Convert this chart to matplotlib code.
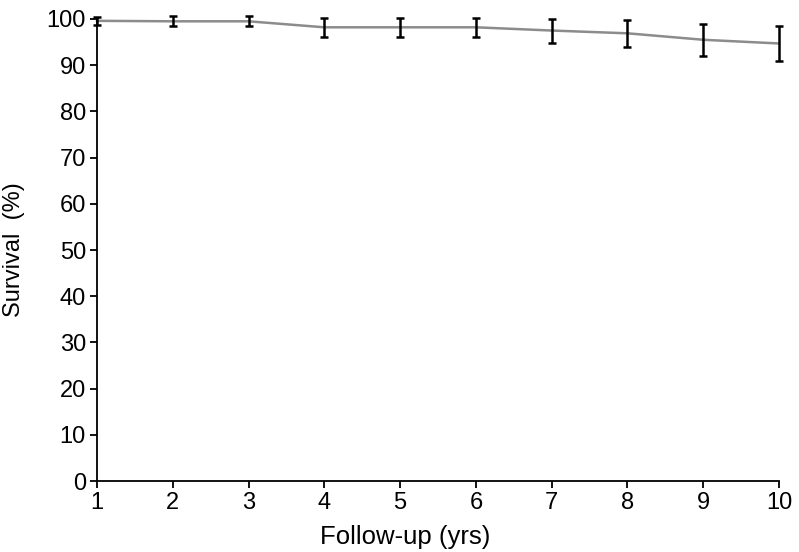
import matplotlib
matplotlib.use("Agg")
import matplotlib.pyplot as plt

# Supervivencia por año de seguimiento, con su barra de error
anios = [1, 2, 3, 4, 5, 6, 7, 8, 9, 10]
supervivencia = [99.6, 99.5, 99.5, 98.2, 98.2, 98.2, 97.5, 96.9, 95.5, 94.7]
error = [0.8, 1.1, 1.1, 2.1, 2.1, 2.1, 2.6, 2.9, 3.5, 3.8]
yticks = [0, 10, 20, 30, 40, 50, 60, 70, 80, 90, 100]

plt.rcParams["font.family"] = ["Liberation Sans", "DejaVu Sans"]

fig = plt.figure(figsize=(7.99, 5.52), dpi=100)
ax = fig.add_axes([0.1214, 0.1286, 0.8536, 0.8370])

ax.plot(anios, supervivencia, color="#8c8c8c", lw=1.8, zorder=2, clip_on=False)
eb = ax.errorbar(anios, supervivencia, yerr=error, fmt="none", ecolor="black",
                 elinewidth=1.8, capsize=3.2, capthick=1.8, zorder=3)
for parte in eb.lines[1] + eb.lines[2]:
    parte.set_clip_on(False)

ax.set_xlim(1, 10)
ax.set_ylim(0, 100)
ax.set_xticks(anios)
ax.set_yticks(yticks)
ax.tick_params(labelsize=17, width=1.3, length=5, direction="out", pad=3)
for lado in ["top", "right"]:
    ax.spines[lado].set_visible(False)
for lado in ["left", "bottom"]:
    ax.spines[lado].set_linewidth(1.3)

ax.set_xlabel("Follow-up (yrs)", fontsize=18.5)
ax.xaxis.set_label_coords(0.452, -0.095)
ax.set_ylabel("Survival  (%)", fontsize=17)
ax.yaxis.set_label_coords(-0.106, 0.5)

fig.savefig("out.png", dpi=100)
